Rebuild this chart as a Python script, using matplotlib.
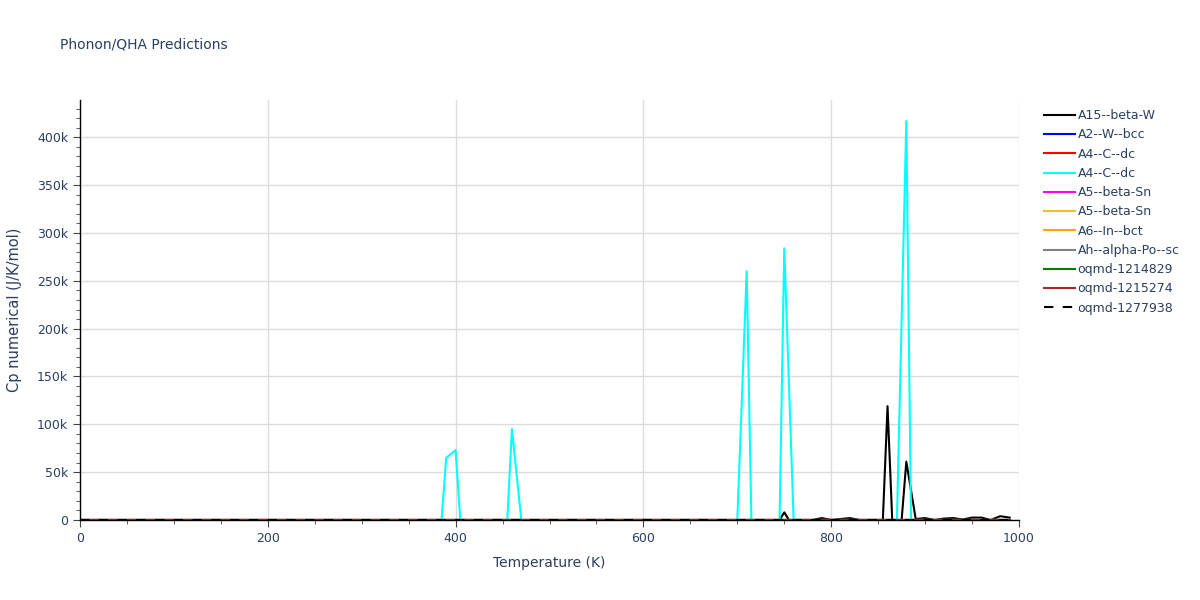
import numpy as np
import matplotlib
matplotlib.use("Agg")
import matplotlib.pyplot as plt
from matplotlib.ticker import MultipleLocator, FuncFormatter

plt.rcParams['font.family'] = ['DejaVu Sans']

# ---- data ----
# flat series (all ~0 on this scale)
flat_T = [0, 990]
flat_cp = [0, 0]

# A15--beta-W (black)
a15_T = [0, 740, 745, 750, 755, 780, 790, 800, 810, 820, 830, 850, 855, 860,
         865, 875, 880, 890, 900, 910, 920, 930, 940, 950, 960, 970, 980, 990]
a15_cp = [0, 0, 0, 8000, 0, 0, 2000, 0, 1000, 2000, 0, 0, 0, 119000,
          0, 0, 61000, 1000, 2000, 0, 1500, 2000, 500, 2500, 2500, 0, 4000, 2500]

# A4--C--dc second entry (cyan)
a4b_T = [0, 385, 390, 400, 405, 455, 460, 470, 700, 710, 715,
         745, 750, 760, 870, 880, 885, 990]
a4b_cp = [0, 0, 65000, 73000, 0, 0, 95000, 0, 0, 260000, 0,
          0, 284000, 0, 0, 417000, 0, 0]

names = ['A15--beta-W', 'A2--W--bcc', 'A4--C--dc', 'A4--C--dc', 'A5--beta-Sn',
         'A5--beta-Sn', 'A6--In--bct', 'Ah--alpha-Po--sc', 'oqmd-1214829',
         'oqmd-1215274', 'oqmd-1277938']
colors = ['black', 'blue', 'red', 'cyan', 'magenta', '#F0C030', 'orange',
          'gray', 'green', 'brown', 'black']

series = {
    0: (a15_T, a15_cp),
    3: (a4b_T, a4b_cp),
}

fig = plt.figure(figsize=(12, 6), dpi=100)
ax = fig.add_axes([80/1200, 80/600, 939/1200, 420/600])

for i, (nm, c) in enumerate(zip(names, colors)):
    T, cp = series.get(i, (flat_T, flat_cp))
    if i == len(names) - 1:
        ax.plot(T, cp, color=c, lw=1.5, dashes=(4.5, 4.5), label=nm)
    else:
        ax.plot(T, cp, color=c, lw=1.5, label=nm)

ax.set_xlim(0, 1000)
ax.set_ylim(0, 439000)

ax.xaxis.set_major_locator(MultipleLocator(200))
ax.xaxis.set_minor_locator(MultipleLocator(50))
ax.yaxis.set_major_locator(MultipleLocator(50000))
ax.yaxis.set_minor_locator(MultipleLocator(10000))
ax.yaxis.set_major_formatter(FuncFormatter(lambda v, p: '0' if v == 0 else '%dk' % (v / 1000)))

txt = '#2a3f5f'
ax.grid(True, which='major', color='#dcdcdc', lw=1)
ax.set_axisbelow(True)
for s in ['top', 'right']:
    ax.spines[s].set_visible(False)
for s in ['left', 'bottom']:
    ax.spines[s].set_color('black')
    ax.spines[s].set_linewidth(1)
ax.tick_params(which='major', length=5, color='#444444', labelsize=9, labelcolor=txt)
ax.tick_params(which='minor', length=3, color='#444444')

ax.set_xlabel('Temperature (K)', color=txt, fontsize=10, labelpad=8)
ax.set_ylabel('Cp numerical (J/K/mol)', color=txt, fontsize=10.5, labelpad=11)

fig.text(60/1200, 1 - 45/600, 'Phonon/QHA Predictions', color=txt, fontsize=10, va='center')

leg = ax.legend(loc='upper left', bbox_to_anchor=(1.021, 0.99), frameon=False,
                fontsize=9, handlelength=2.5, labelspacing=0.5, handletextpad=0.2,
                borderaxespad=0)
for t in leg.get_texts():
    t.set_color(txt)

fig.savefig('out.png', dpi=100)
